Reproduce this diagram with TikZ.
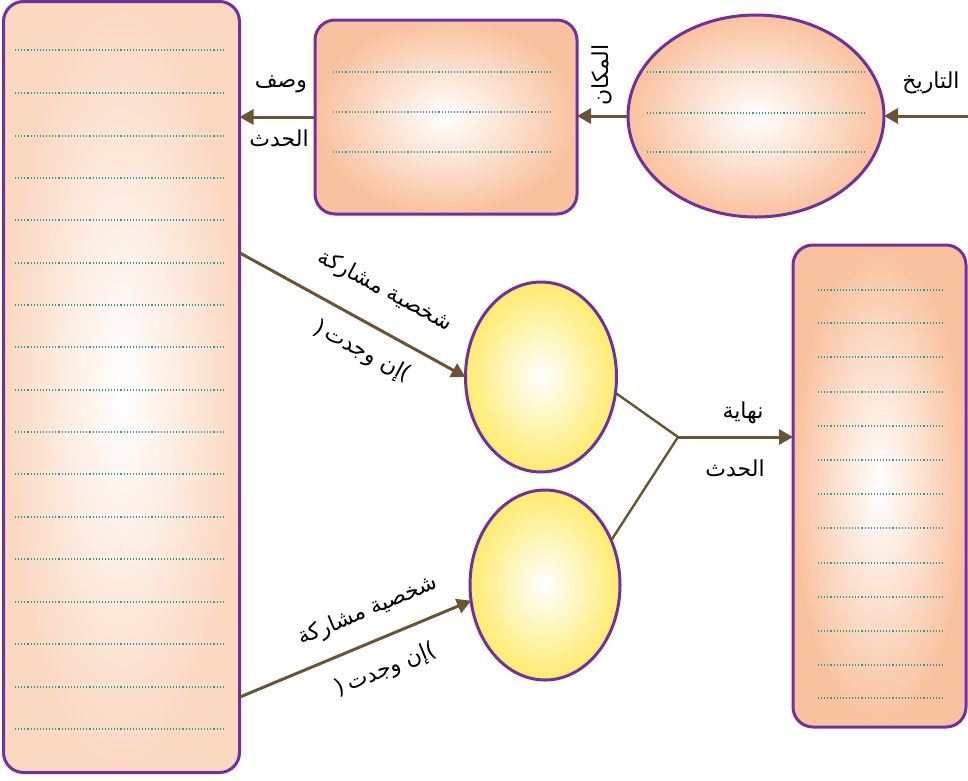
\documentclass[tikz,border=0pt]{standalone}
\usepackage{fontspec}
\usetikzlibrary{arrows.meta,shapes.geometric,calc}
\TeXXeTstate=1
\newfontfamily\arabicfont[Script=Arabic]{DejaVu Sans}
\newfontfamily\parenfont{DejaVu Sans}
\newcommand{\lparen}{\hbox{\parenfont )}}
\newcommand{\rparen}{\hbox{\parenfont (}}
\definecolor{bord}{HTML}{7030A0}
\definecolor{arrc}{HTML}{6B5433}
\definecolor{dotc}{HTML}{2A9A9A}
\definecolor{orOut}{HTML}{F9C29E}
\definecolor{orLight}{HTML}{FBD8C0}
\definecolor{yeOut}{HTML}{FFEC6E}
\tikzset{
  boxbase/.style={draw=bord,line width=3pt,inner sep=0pt,outer sep=0pt},
  rbox/.style={boxbase,rectangle,rounded corners=20pt},
  ebox/.style={boxbase,ellipse},
  orshade/.style={shading=radial,inner color=white,outer color=orOut},
  ltshade/.style={shading=radial,inner color=white,outer color=orLight},
  yeshade/.style={shading=radial,inner color=white,outer color=yeOut},
  dotline/.style={draw=dotc,line width=1.1pt,dotted},
  arr/.style={draw=arrc,line width=3pt,-{Triangle[length=14pt,width=15pt]}},
  plain/.style={draw=arrc,line width=2.4pt},
  lbl/.style={font=\arabicfont\fontsize{22}{24}\selectfont,inner sep=0pt,text=black},
}
\begin{document}
\begin{tikzpicture}[x=1pt,y=-1pt]
\useasboundingbox (0,0) rectangle (968,780);
% shapes
\node[rbox,ltshade,minimum width=236pt,minimum height=771pt] (big) at (121.5,387) {};
\node[rbox,orshade,minimum width=262pt,minimum height=194pt] (mid) at (446,117) {};
\node[ebox,orshade,minimum width=256pt,minimum height=202pt] (date) at (756,116) {};
\node[rbox,orshade,minimum width=173pt,minimum height=482pt] (endb) at (879.5,486) {};
\node[ebox,yeshade,minimum width=151pt,minimum height=190pt] (p1) at (541,377) {};
\node[ebox,yeshade,minimum width=150pt,minimum height=190pt] (p2) at (545,585) {};
% dotted lines
\foreach \y in {50,93,136,178,220,263,305,347,390,432,474,517,559,602,644,687,729}
  \draw[dotline] (15,\y) -- (225,\y);
\foreach \y in {72,112,152}
  \draw[dotline] (333,\y) -- (551,\y);
\foreach \y in {72,113,152}
  \draw[dotline] (647,\y) -- (865,\y);
\foreach \y in {290,323,357,392,426,460,494,528,563,597,631,665,698}
  \draw[dotline] (818,\y) -- (943,\y);
% coordinates
\coordinate (dstart) at (968,116);
\coordinate (j) at (678,437);
\coordinate (s1) at (240,253);
\coordinate (s2) at (240,697);
% connectors
\draw[arr] (dstart) -- (date.east);
\draw[arr] (date.west) -- (date.west -| mid.east);
\draw[arr] (mid.west) -- (mid.west -| big.east);
\draw[arr] (s1) -- (p1.west);
\draw[arr] (s2) -- (p2.192);
\draw[plain] (p1.-12) -- (j);
\draw[plain] (p2.34) -- (j);
\draw[arr] (j) -- (j -| endb.west);
% labels
\node[lbl] (t1) at (931,83) {\beginR التاريخ\endR};
\node[lbl,rotate=90] (t2) at (602,75) {\beginR المكان\endR};
\node[lbl] (t3) at (281,84) {\beginR وصف\endR};
\node[lbl] (t4) at (279,138) {\beginR الحدث\endR};
\node[lbl] (t5) at (743,413) {\beginR نهاية\endR};
\node[lbl] (t6) at (735,468) {\beginR الحدث\endR};
\node[lbl,rotate=-28] (t7) at (385,291) {\beginR شخصية مشاركة\endR};
\node[lbl,rotate=-28] (t8) at (362,352) {\lparen\,\beginR إن وجدت\endR\rparen};
\node[lbl,rotate=22.5] (t9) at (368,611) {\beginR شخصية مشاركة\endR};
\node[lbl,rotate=22.5] (t10) at (386,670) {\lparen\,\beginR إن وجدت\endR\rparen};
\end{tikzpicture}
\end{document}
